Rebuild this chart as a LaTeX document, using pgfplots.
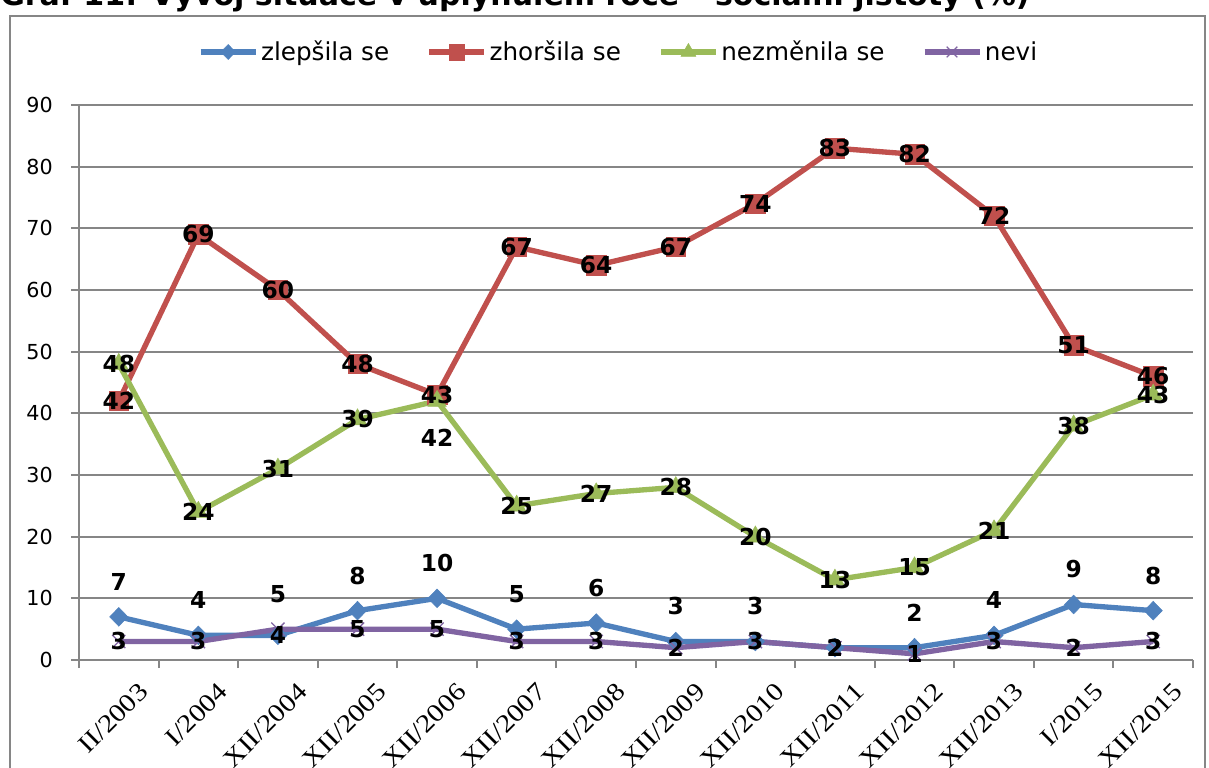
\documentclass[border=0pt]{standalone}
\usepackage{fontspec}
\setmainfont{DejaVu Sans}
\newfontfamily\xfont[FakeStretch=1.15]{Liberation Serif}
\usepackage{pgfplots}
\pgfplotsset{compat=1.18}
\usepackage{pgfplotstable}
\definecolor{cblue}{RGB}{79,129,189}
\definecolor{cred}{RGB}{192,80,77}
\definecolor{cgreen}{RGB}{155,187,89}
\definecolor{cpurple}{RGB}{128,100,162}
\definecolor{cgrid}{RGB}{134,134,134}
\newcommand\labfont{\fontsize{17.5}{17.5}\selectfont\bfseries}

\pgfplotstableread{
x y lab dy
0 7 7 26.25
1 4 4 26.25
2 4 4 0
3 8 8 26.25
4 10 10 26.25
5 5 5 26.25
6 6 6 26.25
7 3 3 26.25
8 3 3 26.25
9 2 2 0
10 2 2 26.25
11 4 4 26.25
12 9 9 26.25
13 8 8 26.25
}\blue

\pgfplotstableread{
x y lab dy
0 42 42 0
1 69 69 0
2 60 60 0
3 48 48 0
4 43 43 0
5 67 67 0
6 64 64 0
7 67 67 0
8 74 74 0
9 83 83 0
10 82 82 0
11 72 72 0
12 51 51 0
13 46 46 0
}\red

\pgfplotstableread{
x y lab dy
0 48 48 0
1 24 24 0
2 31 31 0
3 39 39 0
4 42 42 -27.75
5 25 25 0
6 27 27 0
7 28 28 0
8 20 20 0
9 13 13 0
10 15 15 0
11 21 21 0
12 38 38 0
13 43 43 0
}\green

\pgfplotstableread{
x y lab dy
0 3 3 0
1 3 3 0
2 5 5 26.25
3 5 5 0
4 5 5 0
5 3 3 0
6 3 3 0
7 2 2 0
8 3 3 0
9 2 2 0
10 1 1 0
11 3 3 0
12 2 2 0
13 3 3 0
}\purple

\begin{document}
\begin{tikzpicture}
\useasboundingbox (0,0) rectangle (906.75pt,575.25pt);
\begin{scope}
\clip (0,0) rectangle (906.75pt,575.25pt);
\draw[cgrid, line width=1.5pt] (7.5pt,-10pt) rectangle (903.75pt,563.25pt);
\node[anchor=base west, inner sep=0pt] at (0pt,571pt) {\resizebox{772pt}{!}{\bfseries Graf 11: Vývoj situace v uplynulém roce – sociální jistoty (\%)}};
\end{scope}
\begin{axis}[
  at={(59.25pt,80.25pt)}, anchor=south west,
  width=835.5pt, height=416.25pt, scale only axis,
  xmin=-0.5, xmax=13.5, ymin=0, ymax=90,
  clip=false,
  axis lines*=left,
  axis line style={cgrid, line width=1.5pt},
  ytick={0,10,...,90},
  ymajorgrids,
  grid style={cgrid, line width=1.5pt},
  xtick={-0.5,0.5,...,13.5},
  x tick label as interval,
  xticklabels={II/2003,I/2004,XII/2004,XII/2005,XII/2006,XII/2007,XII/2008,XII/2009,XII/2010,XII/2011,XII/2012,XII/2013,I/2015,XII/2015},
  tick align=outside,
  major tick length=6pt,
  tick style={cgrid, line width=1.5pt},
  xticklabel style={font=\xfont\fontsize{19}{19}\selectfont, rotate=45, anchor=north east, inner sep=0pt, xshift=3pt, yshift=-17pt},
  yticklabel style={font=\fontsize{15.5}{15.5}\selectfont, anchor=east, inner sep=0pt, xshift=-13.5pt},
  /pgf/number format/assume math mode=true,
  legend columns=4,
  legend style={at={(0.4847,1.0955)}, anchor=center, draw=none, fill=none,
    font=\fontsize{18.5}{18.5}\selectfont,
    /tikz/every even column/.append style={column sep=26pt}},
  legend image code/.code={\draw[mark repeat=2, mark phase=2, #1, every mark/.append style={scale=0.8}] plot coordinates {(0pt,0pt) (20.6pt,0pt) (41.25pt,0pt)};},
]
\addplot[cblue, line width=4pt, mark=diamond*, mark size=7pt, mark options={solid, line width=0.4pt, xscale=1.3, fill=cblue}] table[x=x,y=y]{\blue};
\addlegendentry{zlepšila se}
\addplot[cred, line width=4pt, mark=square*, mark size=7.3pt, mark options={solid, line width=0.4pt, fill=cred}] table[x=x,y=y]{\red};
\addlegendentry{zhoršila se}
\addplot[cgreen, line width=4pt, mark=triangle*, mark size=8pt, mark options={solid, line width=0.4pt, fill=cgreen}] table[x=x,y=y]{\green};
\addlegendentry{nezměnila se}
\addplot[cpurple, line width=4pt, mark=x, mark size=7pt, mark options={solid, line width=1pt}] table[x=x,y=y]{\purple};
\addlegendentry{nevi}

\addplot[draw=none, mark=none, forget plot, nodes near coords, point meta=explicit symbolic,
  visualization depends on={\thisrow{dy}\as\labdy},
  nodes near coords style={font=\labfont, anchor=center, inner sep=0pt, yshift=\labdy pt, text=black}] table[x=x,y=y,meta=lab]{\blue};
\addplot[draw=none, mark=none, forget plot, nodes near coords, point meta=explicit symbolic,
  visualization depends on={\thisrow{dy}\as\labdy},
  nodes near coords style={font=\labfont, anchor=center, inner sep=0pt, yshift=\labdy pt, text=black}] table[x=x,y=y,meta=lab]{\red};
\addplot[draw=none, mark=none, forget plot, nodes near coords, point meta=explicit symbolic,
  visualization depends on={\thisrow{dy}\as\labdy},
  nodes near coords style={font=\labfont, anchor=center, inner sep=0pt, yshift=\labdy pt, text=black}] table[x=x,y=y,meta=lab]{\green};
\addplot[draw=none, mark=none, forget plot, nodes near coords, point meta=explicit symbolic,
  visualization depends on={\thisrow{dy}\as\labdy},
  nodes near coords style={font=\labfont, anchor=center, inner sep=0pt, yshift=\labdy pt, text=black}] table[x=x,y=y,meta=lab]{\purple};
\end{axis}
\end{tikzpicture}
\end{document}
